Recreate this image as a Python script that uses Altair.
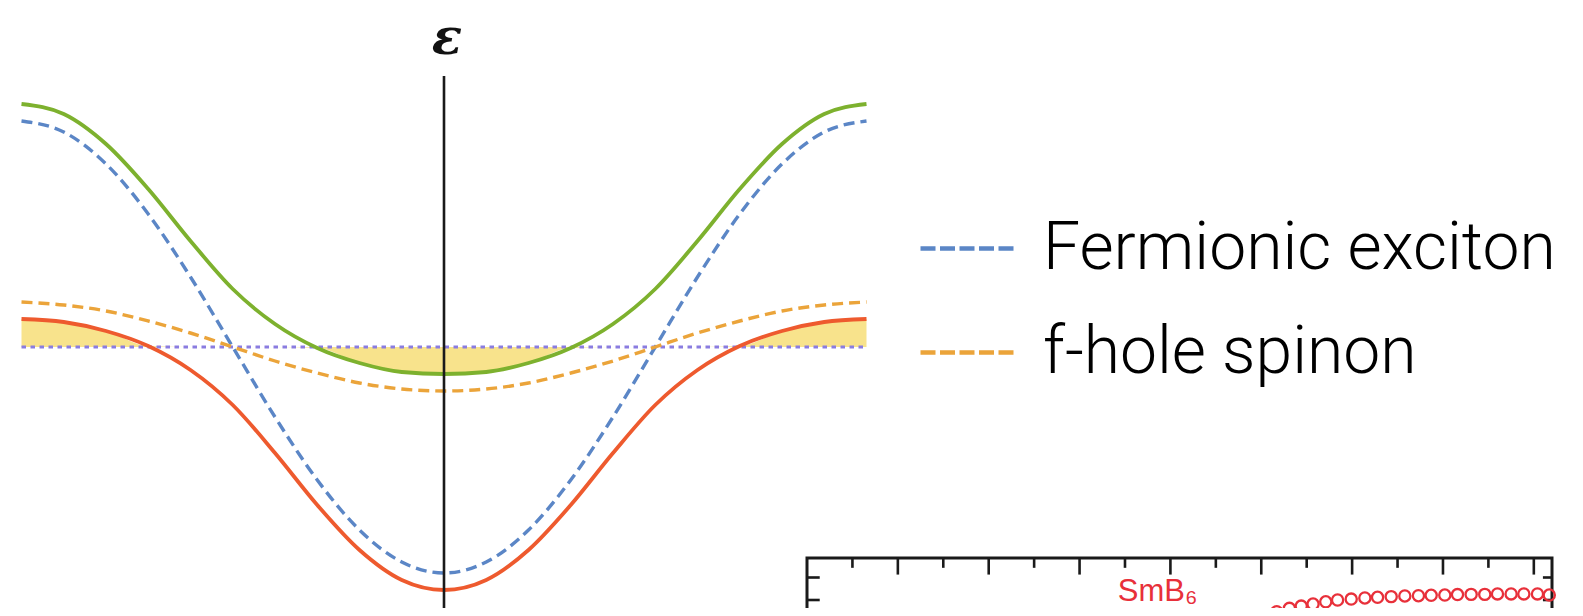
import altair as alt
import pandas as pd

# ---------------- band diagram data (k in units of pi/a, energy relative to dotted level)
k_vals = [-1.0, -0.9, -0.8, -0.7, -0.6, -0.5, -0.4, -0.3, -0.2, -0.1, 0.0,
          0.1, 0.2, 0.3, 0.4, 0.5, 0.6, 0.7, 0.8, 0.9, 1.0]
exciton_E = [2.26, 2.15, 1.83, 1.33, 0.70, 0.00, -0.70, -1.33, -1.83, -2.15, -2.26,
             -2.15, -1.83, -1.33, -0.70, 0.00, 0.70, 1.33, 1.83, 2.15, 2.26]
spinon_E = [0.45, 0.42, 0.36, 0.26, 0.14, 0.00, -0.14, -0.26, -0.36, -0.42, -0.44,
            -0.42, -0.36, -0.26, -0.14, 0.00, 0.14, 0.26, 0.36, 0.42, 0.45]
upper_E = [2.43, 2.33, 2.03, 1.58, 1.06, 0.58, 0.23, -0.01, -0.16, -0.25, -0.27,
           -0.25, -0.16, -0.01, 0.23, 0.58, 1.06, 1.58, 2.03, 2.33, 2.43]
lower_E = [0.28, 0.25, 0.16, 0.01, -0.23, -0.58, -1.06, -1.58, -2.03, -2.33, -2.43,
           -2.33, -2.03, -1.58, -1.06, -0.58, -0.23, 0.01, 0.16, 0.25, 0.28]
fermi_k = [-1.0, 1.0]
fermi_E = [0.0, 0.0]
series_names = ["Fermionic exciton", "f-hole spinon"]
band_names = ["upper", "lower"]
energy_label = "ε"
axis_k = [0.0]
axis_top = [2.71]
axis_bottom = [-2.62]
label_E = [2.93]

# ---------------- inset (SmB6 panel) data
inset_T = [47.2, 48.7, 50.2, 51.7, 53.1, 54.4, 55.7, 57.1, 58.4, 59.9, 61.4, 62.8, 64.3,
           65.8, 67.3, 68.7, 70.2, 71.6, 73.1, 74.6, 76.0, 77.5, 78.9, 80.4, 81.7]
inset_val = [0.79, 0.81, 0.829, 0.848, 0.863, 0.873, 0.882, 0.892, 0.900, 0.904, 0.909,
             0.912, 0.915, 0.918, 0.919, 0.921, 0.922, 0.924, 0.925, 0.925, 0.927,
             0.927, 0.927, 0.927, 0.922]
inset_label = "SmB₆"
inset_label_T = [34.2]
inset_label_val = [0.897]
inset_xticks = [5, 10, 15, 20, 25, 30, 35, 40, 45, 50, 55, 60, 65, 70, 75, 80]
inset_xmajor = [False, True] * 8
inset_yticks = [0.9, 1.0]
INSET_T_MIN, INSET_T_MAX = 0.0, 82.0
INSET_TOP, INSET_BOTTOM = 1.087, 0.6

# ---------------- styles
GREEN = "#7db12e"
BLUE = "#5b86c6"
ORANGE = "#eba43a"
RED = "#ee5a2e"
PURPLE = "#8a7ce0"
YELLOW = "#f8e38c"
INK = "#1a1a1a"
INSET_RED = "#e8303a"

W, H = 1567, 600
XM = alt.Scale(domain=[-1, 1], range=[13.5, 858.5], nice=False, zero=False)
YM = alt.Scale(domain=[-2.5, 2.5], range=[589, 89], nice=False, zero=False)
XI = alt.Scale(domain=[INSET_T_MIN, INSET_T_MAX], range=[799, 1544], nice=False, zero=False)
YI = alt.Scale(domain=[0.6, 1.1], range=[659.5, 547], nice=False, zero=False)

bands = pd.DataFrame({"k": k_vals, "upper": upper_E, "lower": lower_E})

area = alt.Chart(bands).transform_calculate(
    lo="max(datum.lower, 0)", hi="min(datum.upper, 0)"
).mark_area(color=YELLOW, interpolate="monotone").encode(
    x=alt.X("k:Q", scale=XM, axis=None),
    y=alt.Y("lo:Q", scale=YM, axis=None),
    y2="hi:Q",
)

fermi = alt.Chart(pd.DataFrame({"k": fermi_k, "E": fermi_E})).mark_line(
    color=PURPLE, strokeWidth=3, strokeDash=[4.5, 4.5]
).encode(
    x=alt.X("k:Q", scale=XM, axis=None),
    y=alt.Y("E:Q", scale=YM, axis=None),
)

n = len(k_vals)
dashed_df = pd.DataFrame({
    "k": k_vals * 2,
    "E": exciton_E + spinon_E,
    "series": [series_names[0]] * n + [series_names[1]] * n,
})
dashed = alt.Chart(dashed_df).mark_line(
    strokeWidth=3.4, strokeDash=[11, 6], interpolate="monotone"
).encode(
    x=alt.X("k:Q", scale=XM, axis=None),
    y=alt.Y("E:Q", scale=YM, axis=None),
    color=alt.Color(
        "series:N",
        scale=alt.Scale(domain=series_names, range=[BLUE, ORANGE]),
        legend=alt.Legend(
            title=None, orient="none", legendX=910, legendY=191, direction="vertical",
            symbolType="stroke", symbolSize=8836, symbolStrokeWidth=4.5,
            symbolDash=[15, 4.5], labelFont="Roboto", labelFontWeight=300,
            labelFontSize=66, labelColor="#000000", labelOffset=26, rowPadding=21,
            padding=0, labelLimit=0, symbolOpacity=1,
        ),
    ),
)

solid_df = pd.DataFrame({
    "k": k_vals * 2,
    "E": upper_E + lower_E,
    "band": [band_names[0]] * n + [band_names[1]] * n,
})
solid = alt.Chart(solid_df).mark_line(strokeWidth=3.8, interpolate="monotone").encode(
    x=alt.X("k:Q", scale=XM, axis=None),
    y=alt.Y("E:Q", scale=YM, axis=None),
    color=alt.Color("band:N", scale=alt.Scale(domain=band_names, range=[GREEN, RED]), legend=None),
)

axis_df = pd.DataFrame({"k": axis_k, "top": axis_top, "bottom": axis_bottom})
vaxis = alt.Chart(axis_df).mark_rule(color=INK, strokeWidth=2.6).encode(
    x=alt.X("k:Q", scale=XM, axis=None),
    y=alt.Y("top:Q", scale=YM, axis=None),
    y2="bottom:Q",
)

eps = alt.Chart(pd.DataFrame({"k": axis_k, "E": label_E, "t": [energy_label]})).mark_text(
    font="DejaVu Serif", fontStyle="italic", fontWeight="bold", fontSize=50, color="#111111",
    align="center", baseline="alphabetic", dx=3
).encode(
    x=alt.X("k:Q", scale=XM, axis=None),
    y=alt.Y("E:Q", scale=YM, axis=None),
    text="t:N",
)

# ---------------- inset
frame_df = pd.DataFrame({"t0": [INSET_T_MIN], "t1": [INSET_T_MAX], "v0": [INSET_TOP], "v1": [INSET_BOTTOM]})
frame = alt.Chart(frame_df).mark_rect(
    fill="#ffffff", stroke=INK, strokeWidth=3
).encode(
    x=alt.X("t0:Q", scale=XI, axis=None), x2="t1:Q",
    y=alt.Y("v0:Q", scale=YI, axis=None), y2="v1:Q",
)

xt_df = pd.DataFrame({"t": inset_xticks, "major": inset_xmajor})
xticks = alt.Chart(xt_df).transform_calculate(
    top=f"{INSET_TOP}",
    end=f"datum.major ? {INSET_TOP} - 0.074 : {INSET_TOP} - 0.044",
).mark_rule(color=INK, strokeWidth=2.6).encode(
    x=alt.X("t:Q", scale=XI, axis=None),
    y=alt.Y("top:Q", scale=YI, axis=None),
    y2="end:Q",
)

yt_df = pd.DataFrame({"v": inset_yticks})
lticks = alt.Chart(yt_df).transform_calculate(
    a=f"{INSET_T_MIN}", b=f"{INSET_T_MIN} + 1.4"
).mark_rule(color=INK, strokeWidth=2.6).encode(
    x=alt.X("a:Q", scale=XI, axis=None), x2="b:Q",
    y=alt.Y("v:Q", scale=YI, axis=None),
)
rticks = alt.Chart(yt_df).transform_calculate(
    a=f"{INSET_T_MAX}", b=f"{INSET_T_MAX} - 1.0"
).mark_rule(color=INK, strokeWidth=2.6).encode(
    x=alt.X("a:Q", scale=XI, axis=None), x2="b:Q",
    y=alt.Y("v:Q", scale=YI, axis=None),
)

circ = alt.Chart(pd.DataFrame({"T": inset_T, "v": inset_val})).mark_point(
    shape="circle", filled=False, size=125, strokeWidth=2.3, color=INSET_RED, opacity=1
).encode(
    x=alt.X("T:Q", scale=XI, axis=None),
    y=alt.Y("v:Q", scale=YI, axis=None),
)

smb = alt.Chart(pd.DataFrame({"T": inset_label_T, "v": inset_label_val, "s": [inset_label]})).mark_text(
    font="Liberation Sans", fontSize=31, color=INSET_RED, align="left", baseline="alphabetic"
).encode(
    x=alt.X("T:Q", scale=XI, axis=None),
    y=alt.Y("v:Q", scale=YI, axis=None),
    text="s:N",
)

chart = alt.layer(
    area, fermi, dashed, solid, vaxis, eps, frame, xticks, lticks, rticks, circ, smb
).resolve_scale(
    x="independent", y="independent", color="independent"
).properties(
    width=W, height=H, padding=0, background="#ffffff",
    autosize=alt.AutoSizeParams(type="none"),
).configure_view(strokeWidth=0)

chart.save("out.html", embed_options={"renderer": "svg", "actions": False})
